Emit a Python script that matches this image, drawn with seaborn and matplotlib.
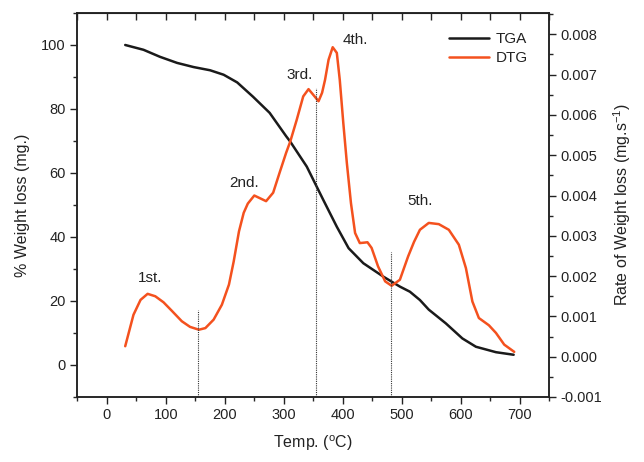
import matplotlib
matplotlib.use("Agg")
import matplotlib.pyplot as plt
import pandas as pd
import seaborn as sns
from matplotlib.ticker import MultipleLocator, FormatStrFormatter

# values
tga_temp = [31, 62, 90, 119, 147, 175, 198, 221, 248, 276, 304, 311, 339, 367,
            390, 410, 435, 469, 497, 514, 531, 546, 575, 603, 626, 660, 690]
tga_weight = [100, 98.5, 96.3, 94.4, 93.1, 92.1, 90.7, 88.3, 83.8, 78.8, 71.5,
              69.8, 62.0, 51.6, 43.2, 36.5, 31.8, 27.6, 24.5, 22.9, 20.3, 17.3,
              13, 8.3, 5.7, 4, 3.2]

dtg_temp = [31, 45, 57, 69, 82, 96, 110, 127, 141, 156, 167, 181, 195, 207, 215,
            224, 232, 239, 250, 270, 282, 293, 304, 311, 322, 333, 342, 350, 359,
            365, 370, 376, 383, 390, 395, 401, 407, 414, 421, 429, 436, 442, 449,
            460, 472, 483, 497, 511, 521, 531, 546, 563, 580, 597, 609, 620, 631,
            648, 660, 674, 691]
dtg_rate = [0.00026, 0.00104, 0.00141, 0.00156, 0.00150, 0.00135, 0.00114,
            0.00088, 0.00074, 0.00067, 0.00071, 0.00092, 0.00129, 0.00179,
            0.00236, 0.00311, 0.00357, 0.00380, 0.00400, 0.00386, 0.00407,
            0.00457, 0.00506, 0.00534, 0.00588, 0.00646, 0.00664, 0.00650,
            0.00634, 0.00655, 0.00687, 0.00737, 0.00768, 0.00754, 0.00687,
            0.00580, 0.00481, 0.00381, 0.00307, 0.00282, 0.00283, 0.00284,
            0.00270, 0.00224, 0.00187, 0.00176, 0.00191, 0.00249, 0.00285,
            0.00315, 0.00332, 0.00329, 0.00315, 0.00278, 0.00220, 0.00137,
            0.00096, 0.00078, 0.00059, 0.00030, 0.00012]

# stage separators (temperature, top of the dotted line on the rate axis)
stage_temp = [155, 355, 482]
stage_top = [0.00117, 0.00667, 0.00261]

# stage labels
stage_names = ["1st.", "2nd.", "3rd.", "4th.", "5th."]
stage_label_temp = [73, 232, 327, 421, 531]
stage_label_rate = [0.00196, 0.00432, 0.00700, 0.00787, 0.00387]

tga_df = pd.DataFrame({"temp": tga_temp, "weight": tga_weight})
dtg_df = pd.DataFrame({"temp": dtg_temp, "rate": dtg_rate})

sns.set_style("ticks")
plt.rcParams["font.family"] = ["Liberation Sans", "DejaVu Sans"]
plt.rcParams["mathtext.default"] = "regular"
text_color = "#222222"

fig = plt.figure(figsize=(6.44, 4.62), dpi=100)
ax = fig.add_axes([0.1203, 0.1407, 0.7322, 0.8312])
ax2 = ax.twinx()

sns.lineplot(data=tga_df, x="temp", y="weight", ax=ax, color="#1a1a1a",
             linewidth=1.8, label="TGA", legend=False)
sns.lineplot(data=dtg_df, x="temp", y="rate", ax=ax2, color="#f4511e",
             linewidth=1.8, label="DTG", legend=False)

ax2.vlines(stage_temp, -0.001, stage_top, colors="#333333",
           linestyles=(0, (1, 1)), linewidth=0.8)

for name, t, r in zip(stage_names, stage_label_temp, stage_label_rate):
    ax2.text(t, r, name, ha="center", va="center", fontsize=11, color=text_color)

ax.set_xlim(-50, 750)
ax.set_ylim(-10, 110)
ax2.set_ylim(-0.001, 0.00853)

ax.xaxis.set_major_locator(MultipleLocator(100))
ax.xaxis.set_minor_locator(MultipleLocator(50))
ax.set_yticks([0, 20, 40, 60, 80, 100])
ax.yaxis.set_minor_locator(MultipleLocator(10))
ax2.yaxis.set_major_locator(MultipleLocator(0.001))
ax2.yaxis.set_minor_locator(MultipleLocator(0.0005))
ax2.yaxis.set_major_formatter(FormatStrFormatter("%.3f"))

for a in (ax, ax2):
    a.tick_params(which="major", length=5, width=1, direction="out",
                  labelsize=10.5, colors=text_color)
    a.tick_params(which="minor", length=3, width=1, direction="out")
    for s in a.spines.values():
        s.set_linewidth(1.1)
        s.set_color("#222222")
ax.tick_params(axis="x", pad=3)

top = ax.secondary_xaxis("top")
top.xaxis.set_major_locator(MultipleLocator(50))
top.tick_params(direction="in", length=5, width=1, labeltop=False)

ax.set_xlabel("Temp. ($^{o}$C)", fontsize=11.5, color=text_color, labelpad=8)
ax.set_ylabel("% Weight loss (mg.)", fontsize=11.5, color=text_color, labelpad=8)
ax2.set_ylabel("Rate of Weight loss (mg.s$^{-1}$)", fontsize=11.5,
               color=text_color, labelpad=6)

h1, l1 = ax.get_legend_handles_labels()
h2, l2 = ax2.get_legend_handles_labels()
ax2.legend(h1 + h2, l1 + l2, loc="upper right", bbox_to_anchor=(0.985, 0.985),
           frameon=False, fontsize=11, handlelength=2.6, handletextpad=0.45,
           labelspacing=0.3, labelcolor=text_color)

fig.savefig("out.png", dpi=100)
